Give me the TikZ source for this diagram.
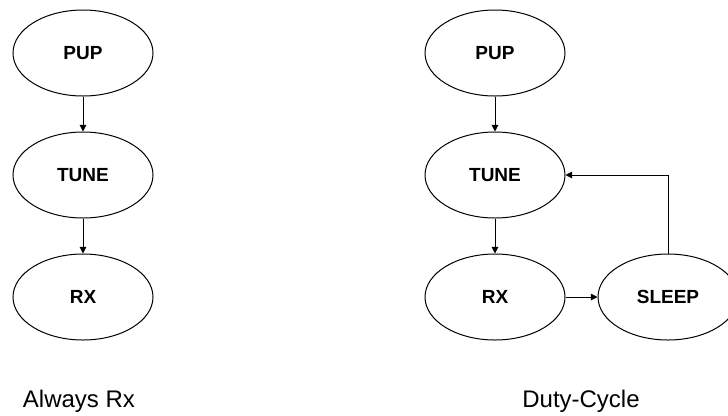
\documentclass[tikz,border=0pt]{standalone}
\usepackage{fontspec}
\setmainfont{Liberation Sans}
\usetikzlibrary{shapes.geometric,arrows.meta}

\begin{document}
\begin{tikzpicture}[x=0.75pt,y=-0.75pt,
  state/.style={draw,ellipse,line width=0.75pt,minimum width=105pt,minimum height=64.5pt,inner sep=0pt,font=\fontsize{14.25}{17}\selectfont\bfseries},
  lbl/.style={anchor=base,font=\fontsize{18}{21}\selectfont},
  arr/.style={line width=0.75pt,-{Triangle[length=5pt,width=5pt]}}]
\useasboundingbox (0,0) rectangle (728,415);

% always rx
\node[state] (pupA)  at (83,53)  {PUP};
\node[state] (tuneA) at (83,175) {TUNE};
\node[state] (rxA)   at (83,297) {RX};

\draw[arr] (pupA) -- (tuneA);
\draw[arr] (tuneA) -- (rxA);

% duty cycle
\node[state] (pupB)   at (495,53)  {PUP};
\node[state] (tuneB)  at (495,175) {TUNE};
\node[state] (rxB)    at (495,297) {RX};
\node[state] (sleepB) at (668,297) {SLEEP};

\draw[arr] (pupB) -- (tuneB);
\draw[arr] (tuneB) -- (rxB);
\draw[arr] (rxB) -- (sleepB);
\draw[arr] (sleepB.north) |- (tuneB.east);

\node[lbl] (capA) at (79,407)  {Always Rx};
\node[lbl] (capB) at (581,407) {Duty-Cycle};

\end{tikzpicture}
\end{document}
